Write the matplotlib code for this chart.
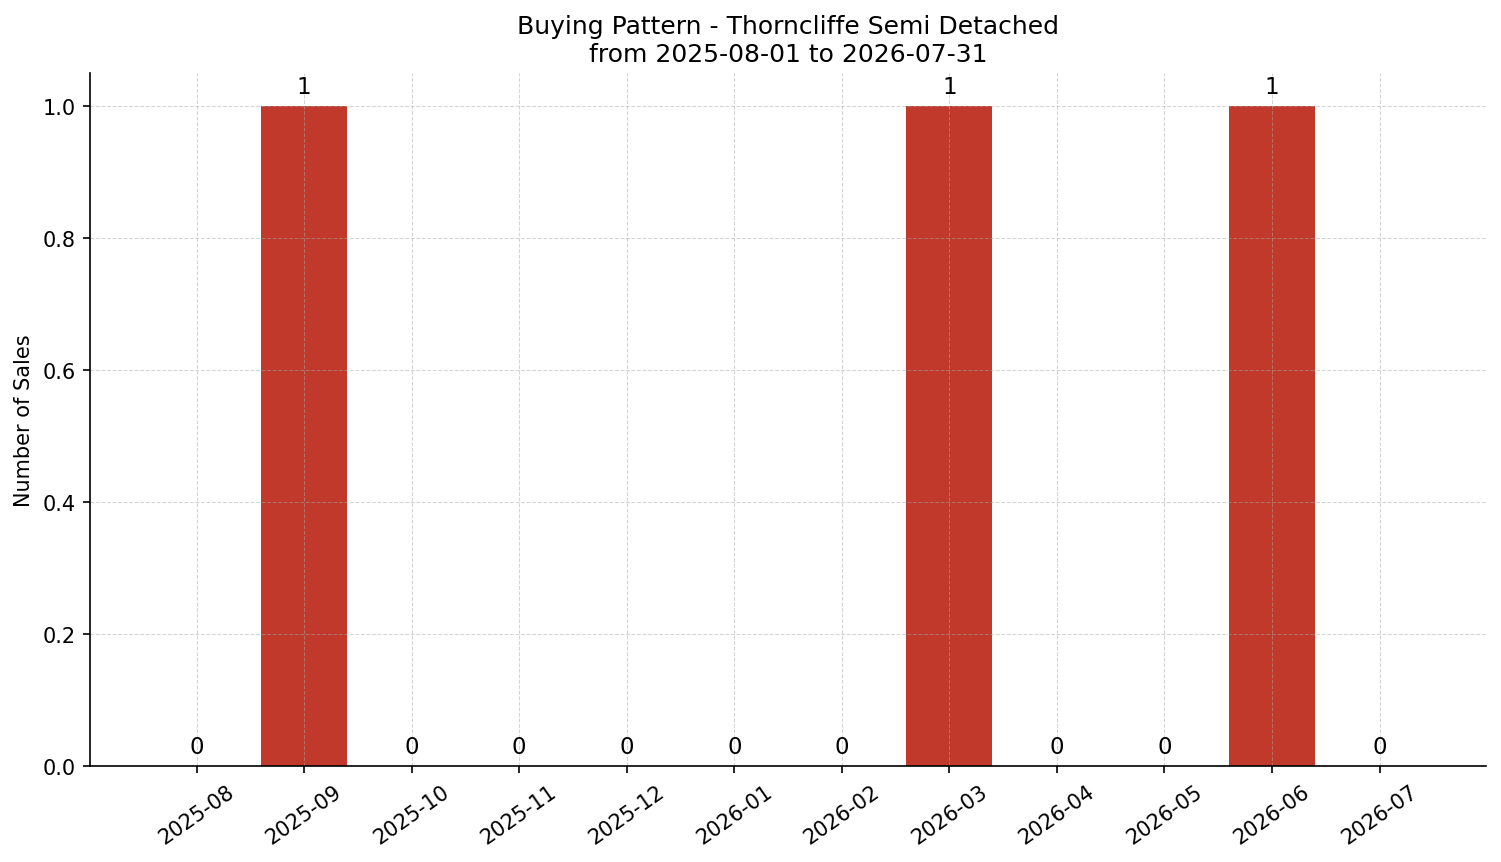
import matplotlib
matplotlib.use('Agg')
from matplotlib import pyplot as plt
import numpy as np

# Monthly sales counts
months = ['2025-08', '2025-09', '2025-10', '2025-11', '2025-12', '2026-01',
          '2026-02', '2026-03', '2026-04', '2026-05', '2026-06', '2026-07']
sales = [0, 1, 0, 0, 0, 0, 0, 1, 0, 0, 1, 0]

title = 'Buying Pattern - Thorncliffe Semi Detached\nfrom 2025-08-01 to 2026-07-31'

fig = plt.figure(figsize=(10.007, 5.753), dpi=150)
ax = fig.add_subplot(111)

x = np.arange(len(months))
bars = ax.bar(x, sales, width=0.8, color='#c0392b')
ax.bar_label(bars, labels=[str(v) for v in sales], padding=4, fontsize=11)

ax.set_xticks(x)
ax.set_xticklabels(months, rotation=35, ha='center', fontsize=10)
ax.tick_params(axis='y', labelsize=10)
ax.set_ylabel('Number of Sales', fontsize=10)
ax.set_title(title, fontsize=12)
ax.grid(True, linestyle='--', linewidth=0.5, alpha=0.5, color='#aaaaaa')
ax.spines['top'].set_visible(False)
ax.spines['right'].set_visible(False)

fig.subplots_adjust(left=0.06, right=0.99, top=0.914, bottom=0.111)
fig.savefig('out.png', dpi=150)
